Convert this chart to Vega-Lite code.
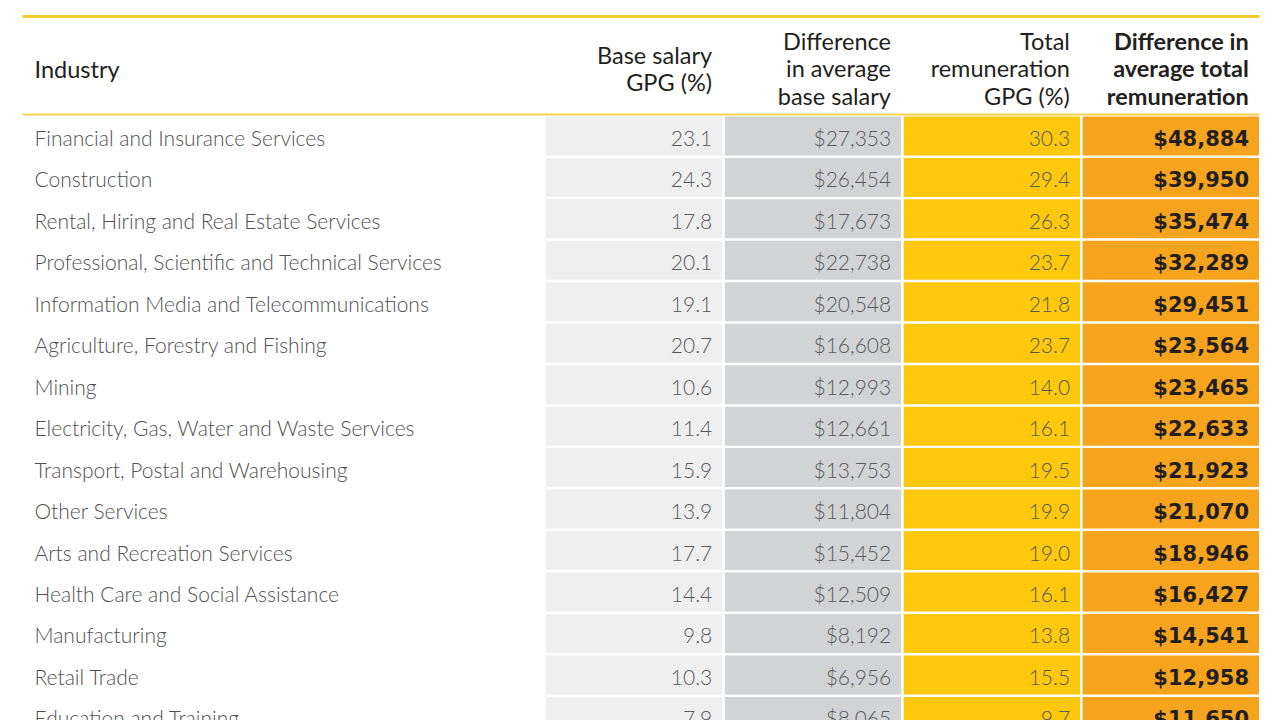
{
  "$schema": "https://vega.github.io/schema/vega-lite/v6.json",
  "width": 1237,
  "height": 606,
  "autosize": {"type": "none"},
  "padding": {"left": 22, "top": 114, "right": 21, "bottom": 0},
  "background": "white",
  "config": {"view": {"stroke": null}, "font": "Lato"},
  "data": {"values": [
    {"industry": "Financial and Insurance Services", "base": 23.1, "diffbase": 27353, "total": 30.3, "difftot": 48884},
    {"industry": "Construction", "base": 24.3, "diffbase": 26454, "total": 29.4, "difftot": 39950},
    {"industry": "Rental, Hiring and Real Estate Services", "base": 17.8, "diffbase": 17673, "total": 26.3, "difftot": 35474},
    {"industry": "Professional, Scientific and Technical Services", "base": 20.1, "diffbase": 22738, "total": 23.7, "difftot": 32289},
    {"industry": "Information Media and Telecommunications", "base": 19.1, "diffbase": 20548, "total": 21.8, "difftot": 29451},
    {"industry": "Agriculture, Forestry and Fishing", "base": 20.7, "diffbase": 16608, "total": 23.7, "difftot": 23564},
    {"industry": "Mining", "base": 10.6, "diffbase": 12993, "total": 14.0, "difftot": 23465},
    {"industry": "Electricity, Gas, Water and Waste Services", "base": 11.4, "diffbase": 12661, "total": 16.1, "difftot": 22633},
    {"industry": "Transport, Postal and Warehousing", "base": 15.9, "diffbase": 13753, "total": 19.5, "difftot": 21923},
    {"industry": "Other Services", "base": 13.9, "diffbase": 11804, "total": 19.9, "difftot": 21070},
    {"industry": "Arts and Recreation Services", "base": 17.7, "diffbase": 15452, "total": 19.0, "difftot": 18946},
    {"industry": "Health Care and Social Assistance", "base": 14.4, "diffbase": 12509, "total": 16.1, "difftot": 16427},
    {"industry": "Manufacturing", "base": 9.8, "diffbase": 8192, "total": 13.8, "difftot": 14541},
    {"industry": "Retail Trade", "base": 10.3, "diffbase": 6956, "total": 15.5, "difftot": 12958},
    {"industry": "Education and Training", "base": 7.9, "diffbase": 8065, "total": 9.7, "difftot": 11650}
  ]},
  "transform": [
    {"fold": ["base", "diffbase", "total", "difftot"], "as": ["key", "value"]},
    {"calculate": "(datum.key == 'base' || datum.key == 'total') ? format(datum.value, '.1f') : format(datum.value, '$,.0f')", "as": "label"}
  ],
  "resolve": {"axis": {"x": "independent"}},
  "layer": [
    {
      "encoding": {
        "y": {
          "field": "industry", "type": "nominal",
          "scale": {
            "domain": ["Financial and Insurance Services", "Construction", "Rental, Hiring and Real Estate Services", "Professional, Scientific and Technical Services", "Information Media and Telecommunications", "Agriculture, Forestry and Fishing", "Mining", "Electricity, Gas, Water and Waste Services", "Transport, Postal and Warehousing", "Other Services", "Arts and Recreation Services", "Health Care and Social Assistance", "Manufacturing", "Retail Trade", "Education and Training"],
            "range": [1.2, 623.1], "paddingInner": 0.06, "paddingOuter": 0.03
          },
          "axis": {
            "orient": "left", "domain": false, "ticks": false, "tickSize": 0, "grid": false,
            "labelAlign": "left", "labelPadding": -12, "labelBaseline": "middle", "labelOffset": 4,
            "labelFontSize": 21, "labelFont": "Lato", "labelFontWeight": 300, "labelColor": "#505153",
            "labelLimit": 700, "labelOverlap": false,
            "title": "Industry", "titleAngle": 0, "titleAlign": "left", "titleBaseline": "middle",
            "titleX": 12, "titleY": -44, "titleFontSize": 23.5, "titleFont": "Lato", "titleFontWeight": "normal", "titleColor": "#231f20"
          }
        },
        "x": {
          "field": "key", "type": "nominal",
          "scale": {"domain": ["_a", "_b", "base", "diffbase", "total", "difftot"], "range": [0, 1237], "paddingInner": 0.014, "paddingOuter": 0.464, "align": 1},
          "axis": {
            "orient": "top", "ticks": false, "tickSize": 0, "grid": false,
            "labelAlign": "right", "labelOffset": 78, "labelBaseline": "middle",
            "labelPadding": {"condition": {"test": "datum.value == 'base'", "value": 58}, "value": 72},
            "labelFontSize": 23.5, "labelFont": "Lato", "labelLineHeight": 27.5, "labelColor": "#231f20",
            "labelFontWeight": {"condition": {"test": "datum.value == 'difftot'", "value": "bold"}, "value": "normal"},
            "labelExpr": "({'base': ['Base salary', 'GPG (%)'], 'diffbase': ['Difference', 'in average', 'base salary'], 'total': ['Total', 'remuneration', 'GPG (%)'], 'difftot': ['Difference in', 'average total', 'remuneration']}[datum.value]) || ''",
            "labelAngle": 0, "labelLimit": 400, "labelOverlap": false,
            "domainColor": "#f5d44e", "domainWidth": 2, "title": null
          }
        }
      },
      "layer": [
        {
          "mark": {"type": "rect"},
          "encoding": {
            "color": {"field": "key", "type": "nominal", "scale": {"domain": ["base", "diffbase", "total", "difftot"], "range": ["#efeff0", "#d1d3d4", "#fec80c", "#f6a31e"]}, "legend": null}
          }
        },
        {
          "transform": [{"filter": "datum.key != 'difftot'"}],
          "mark": {"type": "text", "align": "right", "baseline": "middle", "dx": -10, "dy": 4, "fontSize": 21, "font": "Lato", "fontWeight": 300, "color": "#58595b"},
          "encoding": {
            "x": {"field": "key", "type": "nominal", "bandPosition": 1},
            "text": {"field": "label"}
          }
        },
        {
          "transform": [{"filter": "datum.key == 'difftot'"}],
          "mark": {"type": "text", "align": "right", "baseline": "middle", "dx": -10, "dy": 4, "fontSize": 21, "font": "DejaVu Sans", "fontWeight": "bold", "color": "#231f20"},
          "encoding": {
            "x": {"field": "key", "type": "nominal", "bandPosition": 1},
            "text": {"field": "label"}
          }
        }
      ]
    },
    {
      "mark": {"type": "rect", "opacity": 0},
      "encoding": {
        "y": {"field": "industry", "type": "nominal"},
        "x": {
          "field": "key", "type": "nominal",
          "axis": {"orient": "top", "offset": 98, "labels": false, "ticks": false, "grid": false, "title": null, "domainColor": "#f2cd30", "domainWidth": 3}
        }
      }
    }
  ]
}
